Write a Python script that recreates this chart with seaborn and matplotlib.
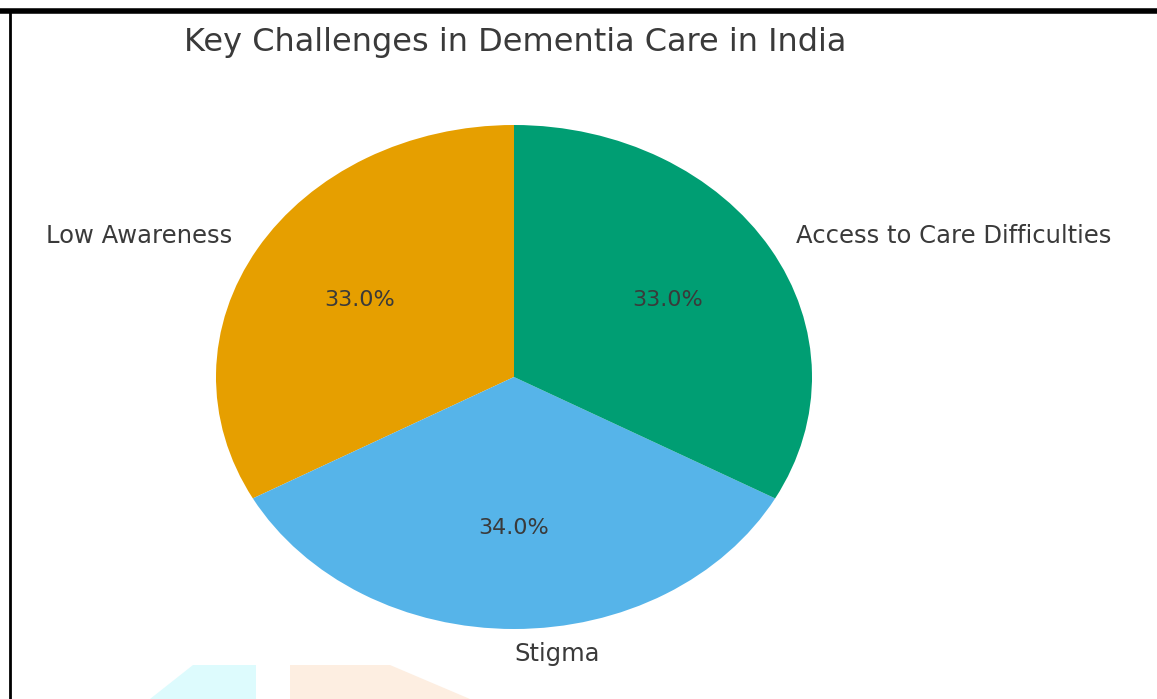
import matplotlib
matplotlib.use("Agg")
import matplotlib.pyplot as plt
import seaborn as sns
from matplotlib.patches import Polygon
from matplotlib.lines import Line2D

# Data
categories = ["Low Awareness", "Stigma", "Access to Care Difficulties"]
shares = [33, 34, 33]
colors = ["#E69F00", "#56B4E9", "#009E73"]
title = "Key Challenges in Dementia Care in India"

sns.set_theme(style="white")
plt.rcParams["font.family"] = ["DejaVu Sans"]

W, H = 1157, 699
fig = plt.figure(figsize=(W / 100, H / 100), dpi=100)
fig.patch.set_facecolor("white")

# faint background watermark shapes at the bottom (from the source page)
fig.add_artist(Polygon([(150 / W, 0), (193 / W, 34 / H), (256 / W, 34 / H), (256 / W, 0)],
                       closed=True, transform=fig.transFigure, facecolor="#DDFBFD",
                       edgecolor="none", zorder=0))
fig.add_artist(Polygon([(290 / W, 0), (290 / W, 34 / H), (390 / W, 34 / H), (470 / W, 0)],
                       closed=True, transform=fig.transFigure, facecolor="#FDEEE1",
                       edgecolor="none", zorder=0))

# axes placed so that the pie matches the reference ellipse
ax = fig.add_axes([141.5 / W, 7 / H, 745 / W, 630 / H])
wedges, texts, autotexts = ax.pie(
    shares,
    labels=categories,
    colors=colors,
    autopct="%1.1f%%",
    startangle=90,
    wedgeprops={"linewidth": 0, "edgecolor": "none"},
    textprops={"fontsize": 17.5, "color": "#3a3a3a"},
)
ax.set_aspect("auto")
ax.set_xlim(-1.25, 1.25)
ax.set_ylim(-1.25, 1.25)
for t in autotexts:
    t.set_fontsize(16)
    t.set_color("#3a3a3a")

fig.text(515 / W, 1 - 42 / H, title, ha="center", va="center",
         fontsize=23, color="#3a3a3a")

# frame of the screenshot (top and left)
fig.add_artist(Line2D([0, 1], [1 - 11 / H, 1 - 11 / H], transform=fig.transFigure,
                      color="black", linewidth=4))
fig.add_artist(Line2D([10 / W, 10 / W], [0, 1 - 11 / H], transform=fig.transFigure,
                      color="black", linewidth=2))

fig.savefig("out.png", dpi=100)
